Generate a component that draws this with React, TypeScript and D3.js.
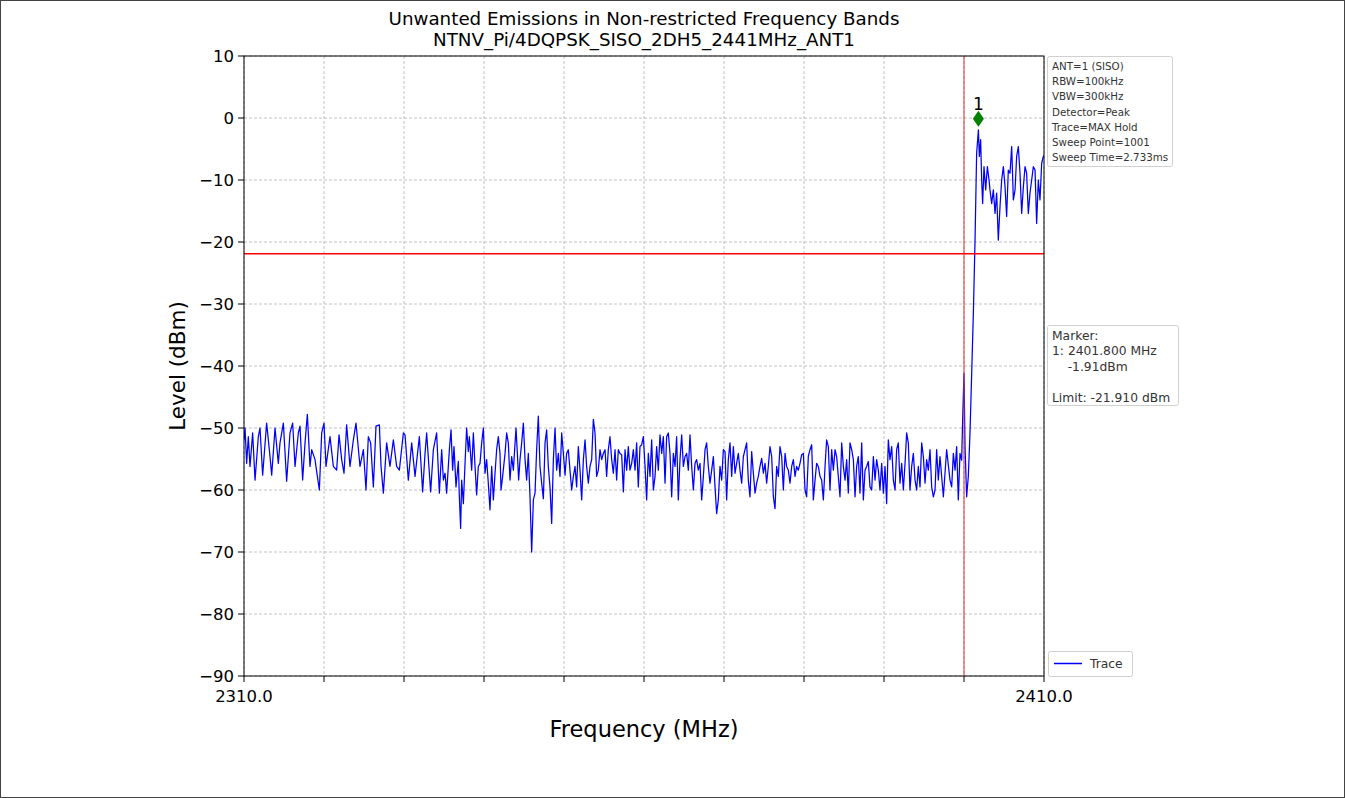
import React from "react";
import * as d3 from "d3";

const titleLines = [
  "Unwanted Emissions in Non-restricted Frequency Bands",
  "NTNV_Pi/4DQPSK_SISO_2DH5_2441MHz_ANT1",
];
const xDomain = [2310, 2410];
const yDomain = [-90, 10];
const xTicks = [2310, 2320, 2330, 2340, 2350, 2360, 2370, 2380, 2390, 2400, 2410];
const xTickLabels = ["2310.0", "", "", "", "", "", "", "", "", "", "2410.0"];
const yTicks = [10, 0, -10, -20, -30, -40, -50, -60, -70, -80, -90];
const limitDbm = -21.91;
const edgeFreq = 2400;
const markerFreq = 2401.8;
const markerLevel = -1.91;
const infoLines = [
  "ANT=1 (SISO)",
  "RBW=100kHz",
  "VBW=300kHz",
  "Detector=Peak",
  "Trace=MAX Hold",
  "Sweep Point=1001",
  "Sweep Time=2.733ms",
];
const markerLines = ["Marker:", "1: 2401.800 MHz", "    -1.91dBm", "", "Limit: -21.910 dBm"];

const traceFreq = [
  2310.0, 2310.13, 2310.33, 2310.54, 2310.75, 2311.08, 2311.38, 2311.79, 2312.0, 2312.33, 2312.83, 2313.25, 2313.46, 2313.88,
  2314.29, 2314.5, 2314.92, 2315.33, 2315.75, 2316.08, 2316.38, 2316.79, 2317.0, 2317.33, 2317.63, 2317.92, 2318.25, 2318.46,
  2318.88, 2319.08, 2319.42, 2319.71, 2320.0, 2320.25, 2320.75, 2321.17, 2321.58, 2321.88, 2322.21, 2322.5, 2322.83, 2323.25,
  2323.67, 2324.0, 2324.5, 2324.92, 2325.25, 2325.54, 2325.83, 2326.17, 2326.5, 2326.92, 2327.13, 2327.42, 2327.83, 2328.25,
  2328.67, 2329.08, 2329.42, 2329.92, 2330.13, 2330.54, 2330.96, 2331.38, 2331.92, 2332.33, 2332.63, 2332.83, 2333.33, 2333.67,
  2334.08, 2334.42,
  2334.71, 2334.92, 2335.13, 2335.33, 2335.67, 2335.88, 2336.08, 2336.25, 2336.5, 2336.79, 2336.92, 2337.08, 2337.21, 2337.42,
  2337.63, 2337.83, 2338.04, 2338.17, 2338.46, 2338.67, 2338.88, 2339.08, 2339.29, 2339.5, 2339.71, 2339.92, 2340.13, 2340.33,
  2340.54, 2340.75, 2340.96, 2341.17, 2341.38, 2341.58, 2341.79, 2342.0, 2342.13, 2342.33, 2342.63, 2342.83, 2343.04, 2343.25,
  2343.46, 2343.67, 2344.0, 2344.17, 2344.33, 2344.5, 2344.71, 2344.92, 2345.13, 2345.33, 2345.54, 2345.75, 2345.96, 2346.17,
  2346.38, 2346.58, 2346.79, 2347.0, 2347.21, 2347.42, 2347.63, 2347.83, 2348.04, 2348.25, 2348.46, 2348.67, 2348.88, 2349.08,
  2349.29, 2349.5, 2349.71, 2349.92, 2350.13, 2350.33, 2350.54, 2350.75, 2350.96, 2351.17, 2351.38, 2351.58, 2351.79, 2352.0,
  2352.21, 2352.42, 2352.63, 2352.83, 2353.04, 2353.25, 2353.46, 2353.67, 2353.88, 2354.08, 2354.29, 2354.5, 2354.71, 2354.92,
  2355.13, 2355.33, 2355.54, 2355.75, 2355.96, 2356.17, 2356.38, 2356.58, 2356.79, 2357.0, 2357.21, 2357.42, 2357.63, 2357.83,
  2358.04,
  2358.25, 2358.46, 2358.67, 2358.88, 2359.08, 2359.29, 2359.5, 2359.71, 2359.92, 2360.13, 2360.33, 2360.54, 2360.75, 2360.96,
  2361.17, 2361.38, 2361.58, 2361.79, 2362.0, 2362.21, 2362.42, 2362.63, 2362.83, 2363.04, 2363.25, 2363.46, 2363.67, 2363.88,
  2364.08, 2364.29, 2364.5, 2364.71, 2364.92, 2365.13, 2365.33, 2365.54, 2365.75, 2365.96, 2366.17, 2366.38, 2366.58, 2366.79,
  2367.0, 2367.21, 2367.42, 2367.63, 2367.83, 2368.04, 2368.25, 2368.46, 2368.67, 2368.88, 2369.08, 2369.29, 2369.5, 2369.71,
  2369.92, 2370.13, 2370.33, 2370.54, 2370.75, 2370.96, 2371.17, 2371.38, 2371.58, 2371.79, 2372.0, 2372.21, 2372.42, 2372.83,
  2373.04, 2373.25, 2373.46, 2373.67, 2373.88, 2374.08, 2374.29, 2374.5, 2374.71, 2374.92, 2375.13, 2375.33, 2375.54, 2375.75,
  2375.96, 2376.17, 2376.38, 2376.58, 2376.79, 2377.0, 2377.21, 2377.42, 2377.63, 2377.83, 2378.04, 2378.25, 2378.46, 2378.67,
  2378.88, 2379.08, 2379.29, 2379.5, 2379.71, 2379.92, 2380.13, 2380.33, 2380.54, 2380.75, 2380.96, 2381.17, 2381.38, 2381.58,
  2381.79,
  2382.0, 2382.21, 2382.42, 2382.63, 2382.83, 2383.04, 2383.25, 2383.46, 2383.67, 2383.88, 2384.08, 2384.29, 2384.5, 2384.71,
  2384.92, 2385.13, 2385.33, 2385.54, 2385.75, 2385.96, 2386.17, 2386.38, 2386.58, 2386.79, 2387.0, 2387.21, 2387.42, 2387.63,
  2387.83, 2388.04, 2388.25, 2388.46, 2388.67, 2388.88, 2389.08, 2389.29, 2389.5, 2389.71, 2389.92, 2390.13, 2390.33, 2390.54,
  2390.75, 2390.96, 2391.17, 2391.38, 2391.58, 2391.79, 2392.0, 2392.21, 2392.42, 2392.63, 2392.83, 2393.04, 2393.25, 2393.46,
  2393.67, 2393.88, 2394.08, 2394.29, 2394.5, 2394.71, 2394.92, 2395.13, 2395.33, 2395.54, 2395.75, 2395.96, 2396.17, 2396.38,
  2396.58, 2396.79,
  2397.0, 2397.42, 2397.83, 2398.25, 2398.46, 2398.67, 2398.88, 2399.08, 2399.29, 2399.5, 2399.71, 2399.83, 2400.0, 2400.13,
  2400.33, 2400.54, 2400.75, 2400.96, 2401.17, 2401.38, 2401.58, 2401.8, 2401.92, 2402.08, 2402.21, 2402.33, 2402.5, 2402.71,
  2402.92, 2403.13, 2403.25, 2403.46, 2403.67, 2403.88, 2404.08, 2404.29, 2404.5, 2404.71, 2404.92, 2405.13, 2405.33, 2405.54,
  2405.75, 2405.96, 2406.17, 2406.38, 2406.58, 2406.79, 2407.0, 2407.21, 2407.42, 2407.63, 2407.83, 2408.04, 2408.25, 2408.46,
  2408.67, 2408.88, 2409.08, 2409.29, 2409.5, 2409.71, 2409.92, 2410.0,
];

const traceLevel = [
  -52.0, -50.0, -55.7, -51.4, -56.2, -50.8, -58.4, -51.4, -50.0, -57.6, -49.2, -54.6, -57.6, -50.0,
  -55.7, -52.4, -49.2, -58.6, -50.8, -49.2, -56.2, -50.8, -49.7, -58.4, -52.4, -47.8, -56.2, -53.5,
  -55.1, -57.0, -60.0, -50.8, -49.2, -56.2, -51.4, -56.2, -56.8, -51.1, -55.1, -57.3, -49.5, -56.2,
  -51.9, -49.2, -56.2, -53.5, -60.0, -51.4, -52.4, -59.5, -49.7, -49.5, -56.2, -60.5, -52.4, -56.2,
  -51.9, -56.2, -56.8, -50.8, -51.1, -58.4, -52.4, -57.8, -51.4, -60.3, -54.1, -50.8, -60.3, -53.5,
  -50.8, -60.5,
  -53.5, -58.4, -57.3, -60.5, -53.5, -50.3, -56.8, -53.0, -59.5, -55.4, -61.1, -66.2, -58.4, -62.2,
  -55.7, -50.0, -53.8, -51.4, -56.8, -50.8, -56.2, -60.8, -56.2, -55.7, -52.4, -50.0, -57.3, -55.1,
  -58.9, -63.2, -56.2, -61.6, -57.3, -53.5, -51.4, -54.1, -60.0, -57.8, -54.1, -50.8, -52.4, -58.4,
  -54.6, -56.8, -50.0, -54.1, -58.4, -55.1, -52.4, -49.2, -55.1, -58.4, -54.1, -61.1, -70.0, -61.6,
  -60.5, -53.5, -48.1, -56.2, -58.9, -61.4, -52.4, -50.3, -56.2, -59.5, -65.4, -55.1, -50.0, -56.8,
  -54.1, -57.8, -50.8, -54.1, -57.6, -54.1, -53.5, -56.8, -60.0, -57.8, -56.2, -59.5, -53.0, -56.8,
  -61.6, -55.1, -51.9, -56.2, -58.9, -56.2, -55.1, -48.6, -50.8, -57.8, -56.8, -53.5, -55.1, -54.1,
  -53.5, -57.8, -53.5, -51.4, -55.1, -57.3, -53.5, -58.4, -53.5, -54.1, -54.3, -60.3, -53.5, -56.8,
  -53.0,
  -56.8, -55.7, -53.5, -56.8, -52.4, -59.5, -53.0, -52.7, -51.4, -56.2, -61.6, -54.1, -57.8, -51.9,
  -60.0, -57.8, -53.0, -56.8, -51.1, -54.1, -51.4, -58.9, -51.4, -50.8, -54.1, -61.1, -54.1, -56.2,
  -51.4, -61.6, -55.1, -51.1, -56.2, -54.6, -54.1, -56.8, -51.1, -56.2, -60.0, -55.7, -55.1, -56.8,
  -55.7, -61.6, -57.8, -53.5, -52.4, -56.2, -58.9, -56.8, -54.6, -59.5, -63.8, -61.6, -56.2, -58.4,
  -53.5, -53.8, -61.6, -55.1, -52.4, -57.8, -53.0, -57.3, -55.7, -54.1, -56.8, -58.9, -54.6, -52.4,
  -58.4, -61.1, -53.8, -57.3, -60.5, -58.9, -57.8, -56.2, -54.9, -57.3, -55.7, -58.9, -56.2, -53.0,
  -54.6, -61.1, -63.0, -56.2, -57.8, -53.0, -54.6, -60.0, -54.1, -56.2, -56.8, -58.9, -56.2, -55.1,
  -57.8, -56.2, -56.8, -55.7, -54.3, -54.1, -60.0, -61.1, -54.6, -53.5, -52.7, -61.6, -58.4, -55.7,
  -56.2,
  -57.8, -58.4, -61.6, -56.2, -51.9, -53.0, -60.0, -53.5, -56.8, -53.5, -54.6, -57.8, -61.1, -52.4,
  -56.2, -58.4, -55.1, -60.5, -52.4, -53.5, -55.1, -61.1, -56.2, -54.6, -60.5, -52.4, -61.6, -56.8,
  -56.2, -55.4, -59.5, -60.0, -54.6, -58.4, -55.1, -56.8, -60.0, -55.7, -60.5, -56.2, -62.2, -51.9,
  -55.1, -53.0, -58.4, -60.0, -53.5, -52.4, -58.9, -55.7, -60.0, -55.7, -50.8, -52.4, -60.0, -56.2,
  -54.1, -58.4, -60.0, -56.2, -59.5, -52.4, -54.6, -58.9, -55.1, -56.8, -53.5, -59.5, -61.1, -60.0,
  -53.5, -58.4,
  -54.6, -61.1, -53.5, -58.4, -59.5, -54.1, -56.8, -53.0, -61.6, -54.1, -55.2, -48.7, -41.2, -53.0,
  -61.1, -57.8, -50.8, -41.2, -31.5, -19.7, -5.7, -1.91, -6.2, -3.5, -10.0, -13.8, -7.85, -11.6,
  -7.85, -10.0, -11.6, -13.8, -11.6, -15.4, -12.1, -19.7, -14.3, -10.0, -7.85, -11.1, -15.9, -8.4,
  -8.9, -4.6, -13.2, -11.6, -6.2, -4.6, -8.9, -15.4, -11.1, -7.85, -8.9, -15.4, -12.1, -10.0,
  -7.85, -8.4, -17.0, -10.0, -13.2, -7.3, -6.2, -6.0,
];

const W = 1345;
const H = 798;
const M = { left: 244, right: 1044, top: 56, bottom: 676 };
const FONT = "'DejaVu Sans', sans-serif";

export default function App() {
  const x = d3.scaleLinear().domain(xDomain).range([M.left, M.right]);
  const y = d3.scaleLinear().domain(yDomain).range([M.bottom, M.top]);
  const pts: [number, number][] = traceFreq.map((f, i) => [f, traceLevel[i]]);
  const line = d3
    .line<[number, number]>()
    .x((d) => x(d[0]))
    .y((d) => y(d[1]));
  const mx = x(markerFreq);
  const my = y(markerLevel) - 11;
  const cx = (M.left + M.right) / 2;

  return (
    <svg
      width={W}
      height={H}
      style={{ position: "absolute", left: 0, top: 0, background: "#fff" }}
      fontFamily={FONT}
    >
      <rect x={0.5} y={0.5} width={W - 1} height={H - 1} fill="#fff" stroke="#444" strokeWidth={1} />
      {titleLines.map((t, i) => (
        <text key={i} x={cx} y={25 + i * 21} textAnchor="middle" fontSize={18.3} fill="#000">
          {t}
        </text>
      ))}
      <defs>
        <clipPath id="plotclip">
          <rect x={M.left} y={M.top} width={M.right - M.left} height={M.bottom - M.top} />
        </clipPath>
      </defs>
      {xTicks.map((t) => (
        <line key={"gx" + t} x1={x(t)} x2={x(t)} y1={M.top} y2={M.bottom} stroke="#b0b0b0" strokeWidth={0.8} strokeDasharray="3,2" />
      ))}
      {yTicks.map((t) => (
        <line key={"gy" + t} x1={M.left} x2={M.right} y1={y(t)} y2={y(t)} stroke="#b0b0b0" strokeWidth={0.8} strokeDasharray="3,2" />
      ))}
      <g clipPath="url(#plotclip)">
        <path d={line(pts) || ""} fill="none" stroke="#0000ff" strokeWidth={1.25} strokeLinejoin="round" />
        <line x1={M.left} x2={M.right} y1={y(limitDbm)} y2={y(limitDbm)} stroke="#ff0000" strokeWidth={1.5} />
        <line x1={x(edgeFreq)} x2={x(edgeFreq)} y1={M.top} y2={M.bottom} stroke="#e03030" strokeWidth={1} />
      </g>
      <path d={`M${mx},${my - 8} L${mx + 5.5},${my} L${mx},${my + 8} L${mx - 5.5},${my} Z`} fill="#008000" />
      <text x={mx} y={my - 9} textAnchor="middle" fontSize={17} fill="#000">
        1
      </text>
      <rect x={M.left} y={M.top} width={M.right - M.left} height={M.bottom - M.top} fill="none" stroke="#000" strokeWidth={1} />
      {yTicks.map((t) => (
        <g key={"yt" + t}>
          <line x1={M.left - 6} x2={M.left} y1={y(t)} y2={y(t)} stroke="#000" />
          <text x={M.left - 10} y={y(t) + 6} textAnchor="end" fontSize={16.5} fill="#000">
            {t < 0 ? "\u2212" + Math.abs(t) : String(t)}
          </text>
        </g>
      ))}
      {xTicks.map((t, i) => (
        <g key={"xt" + t}>
          <line x1={x(t)} x2={x(t)} y1={M.bottom} y2={M.bottom + 6} stroke="#000" />
          {xTickLabels[i] && (
            <text x={x(t)} y={M.bottom + 26} textAnchor="middle" fontSize={16.5} fill="#000">
              {xTickLabels[i]}
            </text>
          )}
        </g>
      ))}
      <text x={cx} y={737} textAnchor="middle" fontSize={22.5} fill="#000">
        Frequency (MHz)
      </text>
      <text transform={`translate(185,${(M.top + M.bottom) / 2}) rotate(-90)`} textAnchor="middle" fontSize={21.5} fill="#000">
        Level (dBm)
      </text>
      <rect x={1047.5} y={56.5} width={125} height={110} fill="#fff" stroke="#d0d0d0" rx={2} />
      {infoLines.map((t, i) => (
        <text key={"il" + i} x={1052} y={70 + i * 15.2} fontSize={10.3} fill="#333">
          {t}
        </text>
      ))}
      <rect x={1047.5} y={325.5} width={131} height={80} fill="#fff" stroke="#d0d0d0" rx={2} />
      {markerLines.map((t, i) => (
        <text key={"ml" + i} x={1052} y={339.5 + i * 15.5} fontSize={12.3} fill="#333" style={{ whiteSpace: "pre" }}>
          {t}
        </text>
      ))}
      <rect x={1048.5} y={651.5} width={84} height={25} fill="#fff" stroke="#d0d0d0" rx={2} />
      <line x1={1054} x2={1082} y1={663.5} y2={663.5} stroke="#0000ff" strokeWidth={1.5} />
      <text x={1090} y={668} fontSize={12.3} fill="#333">
        Trace
      </text>
    </svg>
  );
}
